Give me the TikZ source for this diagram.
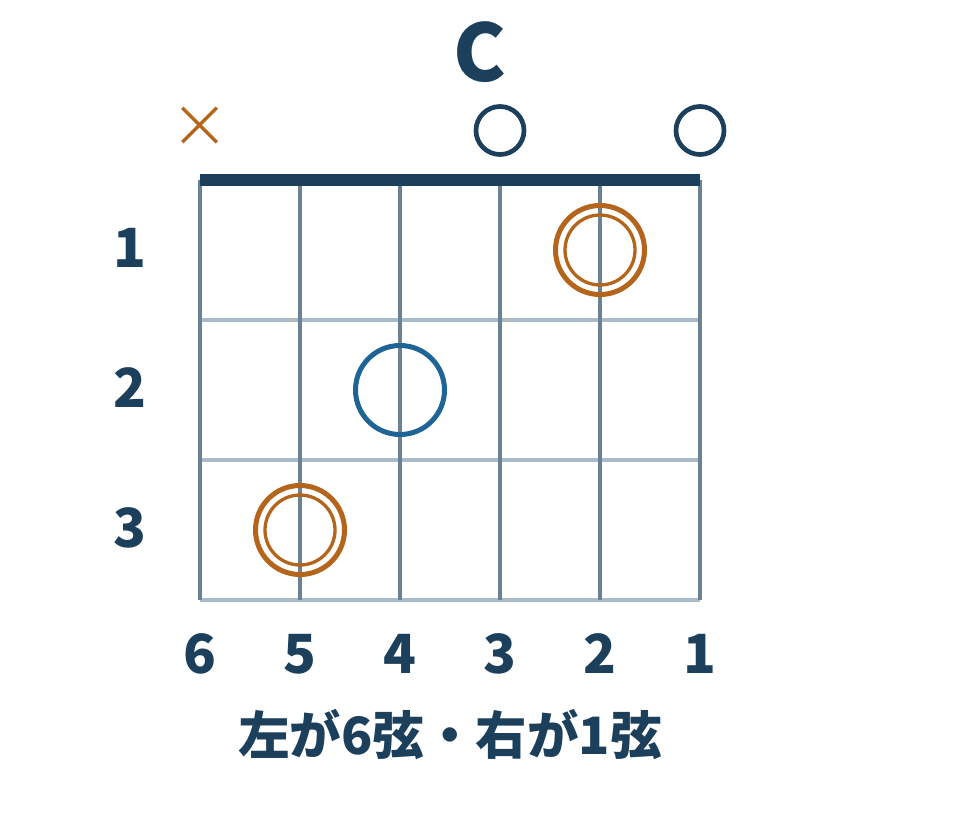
\documentclass[tikz,border=0pt]{standalone}
\usepackage{fontspec}
\setmainfont{Noto Sans CJK JP}
\usepackage{xcolor}
\usetikzlibrary{shapes.misc}

\definecolor{chordnavy}{HTML}{1C3F5C}
\definecolor{chordstring}{HTML}{6A8293}
\definecolor{chordfret}{HTML}{A9BBC8}
\definecolor{chordorange}{HTML}{B5641C}
\definecolor{chordblue}{HTML}{1F6497}

\begin{document}
\begin{tikzpicture}[x=1pt, y=-1pt,
    fretline/.style={line width=4pt, chordfret},
    gtrstring/.style={line width=4.5pt, chordstring},
    nut/.style={line width=12pt, chordnavy},
    numlabel/.style={inner sep=0pt, text=chordnavy, font=\fontsize{54}{60}\selectfont\bfseries},
    titlelabel/.style={inner sep=0pt, text=chordnavy, font=\fontsize{79}{86}\selectfont\bfseries},
    openmark/.style={circle, draw=chordnavy, line width=4.7pt, inner sep=0pt, minimum size=48pt},
    mutemark/.style={cross out, draw=chordorange, line width=3.5pt, inner sep=0pt, minimum size=31pt},
    pressed/.style={circle, draw=chordorange, line width=5pt, inner sep=0pt, minimum size=89pt},
    pressedin/.style={draw=chordorange, line width=3.3pt},
    rootpressed/.style={circle, draw=chordblue, line width=5pt, inner sep=0pt, minimum size=89pt}]
    \useasboundingbox (0,0) rectangle (960,824);
    \fill[white] (0,0) rectangle (960,824);

    % frets and strings
    \foreach \y in {320,460,600}
        \draw[fretline] (200,\y) -- (700,\y);
    \foreach \x in {200,300,...,700}
        \draw[gtrstring] (\x,180) -- (\x,600);
    \draw[nut] (200,180) -- (700,180);

    % chord name
    \node[titlelabel] (chord) at (480,52) {C};

    % open and muted strings
    \node[mutemark] (mute6) at (199.5,125) {};
    \node[openmark] (open3) at (500,130.5) {};
    \node[openmark] (open1) at (700,130.5) {};

    % fingering
    \node[pressed] (press2) at (600,250) {};
    \draw[pressedin] (press2) circle[radius=35];
    \node[rootpressed] (press4) at (400,390) {};
    \node[pressed] (press5) at (300,530) {};
    \draw[pressedin] (press5) circle[radius=35];

    % fret numbers
    \node[numlabel] (fret1) at (130,248) {1};
    \node[numlabel] (fret2) at (130,388) {2};
    \node[numlabel] (fret3) at (130,528) {3};

    % string numbers
    \foreach \n/\x in {6/200,5/300,4/400,3/500,2/600,1/700}
        \node[numlabel] (str\n) at (\x,654) {\n};

    \node[numlabel, font=\fontsize{51.5}{58}\selectfont\bfseries] (caption) at (450,735) {左が6弦・右が1弦};
\end{tikzpicture}
\end{document}
